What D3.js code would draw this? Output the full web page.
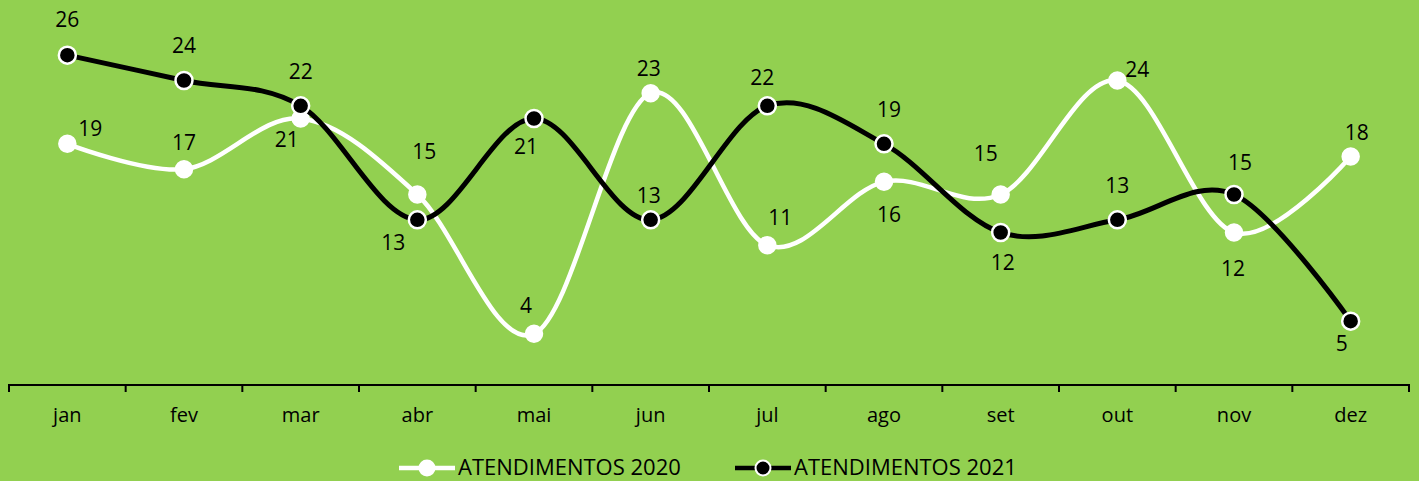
<!DOCTYPE html>
<meta charset="utf-8">
<script src="https://d3js.org/d3.v7.min.js"></script>
<style>
  body { margin: 0; background: #92D050; }
  text { font-family: "Open Sans", sans-serif; fill: #000; }
</style>
<div id="chart"></div>
<script>

// data
var months = ["jan", "fev", "mar", "abr", "mai", "jun", "jul", "ago", "set", "out", "nov", "dez"];
var values2020 = [19, 17, 21, 15, 4, 23, 11, 16, 15, 24, 12, 18];
var values2021 = [26, 24, 22, 13, 21, 13, 22, 19, 12, 13, 15, 5];
var seriesNames = ["ATENDIMENTOS 2020", "ATENDIMENTOS 2021"];

// label nudges [dx, dy] from each point to the text baseline
var nudge2020 = [[23, -8], [0, -19], [-14, 28], [7, -36], [-8, -21], [-2, -17],
                 [13, -20], [5, 40], [-15, -34], [20, -4], [-1, 43], [6, -17]];
var nudge2021 = [[0, -28], [0, -28], [0, -27], [-24, 30], [-8, 35], [-2, -17],
                 [-5, -21], [5, -27], [2, 37], [0, -27], [6, -25], [-9, 30]];

var width = 1419, height = 481;

var svg = d3.select("#chart")
  .append("svg")
    .attr("width", width)
    .attr("height", height);

var x = d3.scaleBand()
  .domain(months)
  .range([9, 1409]);

var y = d3.scaleLinear()
  .domain([0, 30])
  .range([384.5, 4.5]);

// x axis, ticks between categories
var xAxis = svg.append("g")
  .attr("transform", "translate(0,385)")
  .call(d3.axisBottom(x).tickSize(0).tickPadding(23));
xAxis.select(".domain").remove();
xAxis.selectAll("text")
  .style("font-size", "20px")
  .style("font-family", "'Open Sans', sans-serif");

svg.append("line")
  .attr("x1", x.range()[0]).attr("x2", x.range()[1])
  .attr("y1", 385).attr("y2", 385)
  .attr("stroke", "#000").attr("stroke-width", 2);

var bounds = months.map(function(m) { return x(m); }).concat([x.range()[1]]);
svg.selectAll(".tick-mark")
  .data(bounds)
  .enter().append("line")
    .attr("class", "tick-mark")
    .attr("x1", function(d) { return d; })
    .attr("x2", function(d) { return d; })
    .attr("y1", 384)
    .attr("y2", 392)
    .attr("stroke", "#000")
    .attr("stroke-width", 2);

var cx = function(i) { return x(months[i]) + x.bandwidth() / 2; };

var line = d3.line()
  .x(function(d, i) { return cx(i); })
  .y(function(d) { return y(d); })
  .curve(d3.curveCardinal.tension(0));

function drawSeries(values, lineColor, lineWidth, r, fill, stroke) {
  svg.append("path")
    .datum(values)
    .attr("d", line)
    .attr("fill", "none")
    .attr("stroke", lineColor)
    .attr("stroke-width", lineWidth);

  svg.append("g")
    .selectAll("circle")
    .data(values)
    .enter().append("circle")
      .attr("cx", function(d, i) { return cx(i); })
      .attr("cy", function(d) { return y(d); })
      .attr("r", r)
      .attr("fill", fill)
      .attr("stroke", stroke)
      .attr("stroke-width", 2.5);
}

function drawLabels(values, nudge) {
  svg.append("g")
    .selectAll("text")
    .data(values)
    .enter().append("text")
      .attr("x", function(d, i) { return cx(i) + nudge[i][0]; })
      .attr("y", function(d, i) { return y(d) + nudge[i][1]; })
      .attr("text-anchor", "middle")
      .style("font-size", "21px")
      .text(function(d) { return d; });
}

drawSeries(values2020, "#fff", 4.5, 8, "#fff", "#fff");
drawSeries(values2021, "#000", 5, 8.5, "#000", "#fff");
drawLabels(values2020, nudge2020);
drawLabels(values2021, nudge2021);

// legend
var legend = svg.append("g");
var legendItems = [
  { name: seriesNames[0], x: 399, color: "#fff", fill: "#fff" },
  { name: seriesNames[1], x: 735, color: "#000", fill: "#000" }
];
legendItems.forEach(function(item) {
  var g = legend.append("g").attr("transform", "translate(" + item.x + ",468)");
  g.append("line")
    .attr("x1", 0).attr("x2", 56)
    .attr("stroke", item.color).attr("stroke-width", 4.5);
  g.append("circle")
    .attr("cx", 28).attr("r", 7.5)
    .attr("fill", item.fill).attr("stroke", "#fff").attr("stroke-width", 2);
  g.append("text")
    .attr("x", 59).attr("y", 6.5)
    .style("font-size", "22px")
    .text(item.name);
});

</script>
